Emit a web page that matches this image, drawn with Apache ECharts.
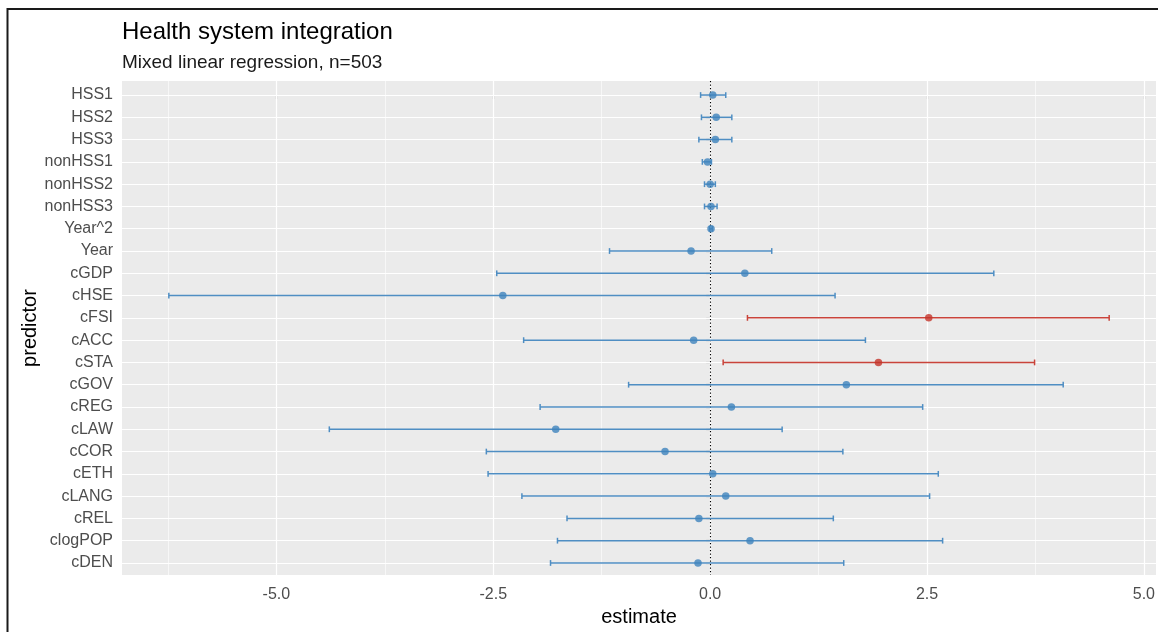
<!DOCTYPE html>
<html>
<head>
<meta charset="utf-8">
<title>Health system integration</title>
<script src="https://cdn.jsdelivr.net/npm/echarts@6/dist/echarts.min.js"></script>
<style>
  html, body { margin: 0; padding: 0; background: #ffffff; }
  #chart { width: 1158px; height: 632px; }
</style>
</head>
<body>
<div id="chart"></div>
<script>
// Predictors, top to bottom
const predictors = ['HSS1', 'HSS2', 'HSS3', 'nonHSS1', 'nonHSS2', 'nonHSS3', 'Year^2', 'Year',
  'cGDP', 'cHSE', 'cFSI', 'cACC', 'cSTA', 'cGOV', 'cREG', 'cLAW', 'cCOR', 'cETH', 'cLANG',
  'cREL', 'clogPOP', 'cDEN'];

// Point estimates and confidence bounds
const estimate = [0.03, 0.07, 0.06, -0.03, 0.00, 0.01, 0.01, -0.22,
  0.40, -2.39, 2.52, -0.19, 1.94, 1.57, 0.245, -1.78, -0.52, 0.03, 0.18,
  -0.13, 0.46, -0.14];
const lower = [-0.11, -0.10, -0.13, -0.09, -0.065, -0.065, -0.005, -1.16,
  -2.46, -6.24, 0.43, -2.15, 0.15, -0.94, -1.96, -4.39, -2.58, -2.56, -2.17,
  -1.65, -1.76, -1.84];
const upper = [0.18, 0.25, 0.25, 0.015, 0.06, 0.08, 0.025, 0.71,
  3.27, 1.44, 4.60, 1.79, 3.74, 4.07, 2.45, 0.83, 1.53, 2.63, 2.53,
  1.42, 2.68, 1.54];

// Axis ticks
const xMajorTicks = [-5, -2.5, 0, 2.5, 5];
const xMinorTicks = [-6.25, -3.75, -1.25, 1.25, 3.75];

const BLUE_PT = '#3f83bd', BLUE_LN = '#4f8ec3';
const RED_PT = '#c4342a', RED_LN = '#c9433a';
const FONT = "'Liberation Sans', Arial, sans-serif";

const significant = predictors.map((_, i) => lower[i] > 0 || upper[i] < 0);
const rowIdx = predictors.map((_, i) => i);

const pointData = estimate.map((v, i) => ({
  value: [v, i],
  itemStyle: { color: significant[i] ? RED_PT : BLUE_PT }
}));
const barData = lower.map((lo, i) => [lo, upper[i], i]);

const chart = echarts.init(document.getElementById('chart'), null, { renderer: 'canvas' });

chart.setOption({
  animation: false,
  backgroundColor: '#ffffff',
  textStyle: { fontFamily: FONT },
  title: [
    { text: 'Health system integration', left: 117, top: 15,
      textStyle: { fontFamily: FONT, fontSize: 24, fontWeight: 'normal', color: '#000000' } },
    { text: 'Mixed linear regression, n=503', left: 117, top: 48,
      textStyle: { fontFamily: FONT, fontSize: 19, fontWeight: 'normal', color: '#1a1a1a' } }
  ],
  graphic: [{
    type: 'rect', silent: true, z: 100,
    shape: { x: 7.5, y: 9, width: 1200, height: 700 },
    style: { fill: 'none', stroke: '#1a1a1a', lineWidth: 2 }
  }],
  grid: {
    left: 122, right: 1, top: 81, bottom: 57,
    show: true, backgroundColor: '#ebebeb', borderWidth: 0
  },
  xAxis: {
    type: 'value', min: -6.78, max: 5.14,
    name: 'estimate', nameLocation: 'middle', nameGap: 32, nameMoveOverlap: false,
    nameTextStyle: { fontFamily: FONT, fontSize: 20, color: '#000000' },
    axisLine: { show: false },
    axisTick: { show: true, length: 4, customValues: xMajorTicks, lineStyle: { color: '#333333', width: 1.1 } },
    axisLabel: { customValues: xMajorTicks, margin: 12, fontFamily: FONT, fontSize: 16, color: '#4d4d4d',
      formatter: v => v.toFixed(1) },
    splitLine: { show: false }
  },
  yAxis: {
    type: 'value', inverse: true, min: -0.63, max: 21.54,
    name: 'predictor', nameLocation: 'middle', nameGap: 82, nameRotate: 90, nameMoveOverlap: false,
    nameTextStyle: { fontFamily: FONT, fontSize: 20, color: '#000000' },
    axisLine: { show: false },
    axisTick: { show: true, length: 4, customValues: rowIdx, lineStyle: { color: '#333333', width: 1.1 } },
    axisLabel: { customValues: rowIdx, margin: 9, fontFamily: FONT, fontSize: 16, color: '#4d4d4d',
      formatter: v => predictors[Math.round(v)] },
    splitLine: { show: false }
  },
  series: [
    {
      // panel grid lines and the zero reference line, kept beneath the marks
      type: 'scatter', data: [], z: 1, silent: true,
      markLine: {
        silent: true, symbol: 'none', animation: false, z: 1,
        label: { show: false },
        emphasis: { disabled: true },
        data: [
          ...xMinorTicks.map(v => ({ xAxis: v, lineStyle: { color: '#ffffff', width: 0.6, type: 'solid' } })),
          ...xMajorTicks.map(v => ({ xAxis: v, lineStyle: { color: '#ffffff', width: 1.2, type: 'solid' } })),
          ...rowIdx.map(i => ({ yAxis: i, lineStyle: { color: '#ffffff', width: 1.2, type: 'solid' } })),
          { xAxis: 0, lineStyle: { color: '#000000', width: 1.1, type: [1.3, 2.2] } }
        ]
      }
    },
    {
      // confidence intervals as capped horizontal bars
      type: 'custom', z: 3, silent: true,
      data: barData,
      encode: { x: [0, 1], y: 2 },
      renderItem: function (params, api) {
        const i = api.value(2);
        const a = api.coord([api.value(0), i]);
        const b = api.coord([api.value(1), i]);
        const h = api.size([0, 1])[1] * 0.13;
        const col = significant[i] ? RED_LN : BLUE_LN;
        const style = { stroke: col, lineWidth: 1.5 };
        return {
          type: 'group',
          children: [
            { type: 'line', shape: { x1: a[0], y1: a[1], x2: b[0], y2: b[1] }, style: style },
            { type: 'line', shape: { x1: a[0], y1: a[1] - h, x2: a[0], y2: a[1] + h }, style: style },
            { type: 'line', shape: { x1: b[0], y1: b[1] - h, x2: b[0], y2: b[1] + h }, style: style }
          ]
        };
      }
    },
    {
      type: 'scatter', z: 4, silent: true,
      symbol: 'circle', symbolSize: 7.5,
      data: pointData
    }
  ]
});
</script>
</body>
</html>
